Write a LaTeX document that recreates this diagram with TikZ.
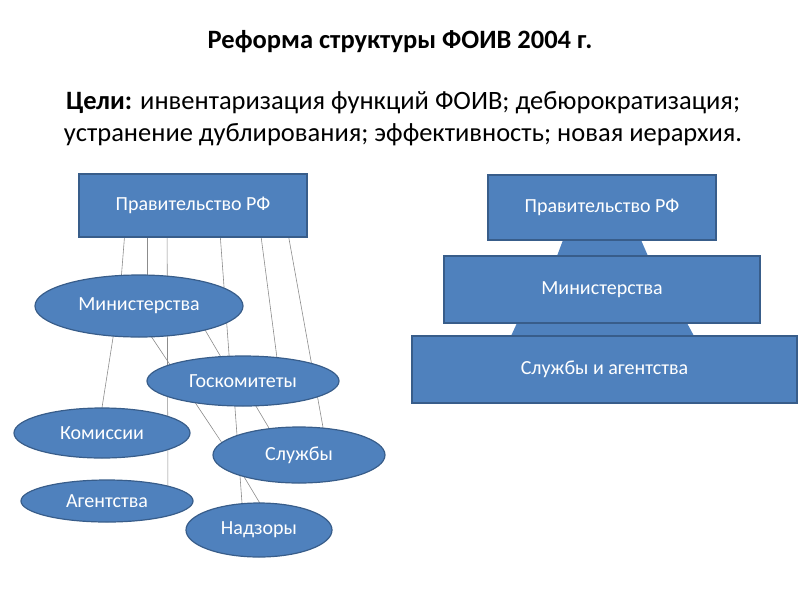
\documentclass[tikz,border=0pt]{standalone}
\usepackage{fontspec}
\setmainfont{Carlito}
\usetikzlibrary{shapes.geometric,backgrounds}
\definecolor{bfill}{HTML}{4F81BD}
\definecolor{bdraw}{HTML}{385D8A}
\tikzset{
  box/.style={draw=bdraw,line width=1.2pt,fill=bfill,text=white,font=\fontsize{20}{24}\selectfont,inner sep=0pt},
  ell/.style={ellipse,draw=bdraw,line width=1.2pt,fill=bfill,text=white,font=\fontsize{20}{24}\selectfont,inner sep=0pt},
  link/.style={draw=black!45,line width=0.6pt}
}
\begin{document}
\begin{tikzpicture}[x=1pt,y=-1pt]
\useasboundingbox (0,0) rectangle (800,600);
\node[font=\fontsize{26.5}{30}\selectfont\bfseries] (title) at (400,42) {Реформа структуры ФОИВ 2004 г.};
\node[font=\fontsize{26.5}{30}\selectfont] (goal1) at (403,103) {\textbf{Цели:} инвентаризация функций ФОИВ; дебюрократизация;};
\node[font=\fontsize{26.5}{30}\selectfont] (goal2) at (403,135) {устранение дублирования; эффективность; новая иерархия.};
% left
\node[box,minimum width=228,minimum height=63] (gov) at (193,205.5) {Правительство РФ};
\node[ell,minimum width=208,minimum height=62] (min) at (139,306) {Министерства};
\node[ell,minimum width=192,minimum height=50] (gosk) at (243,381) {Госкомитеты};
\node[ell,minimum width=176,minimum height=50] (kom) at (102,433) {Комиссии};
\node[ell,minimum width=172,minimum height=56] (sl) at (299,455) {Службы};
\node[ell,minimum width=172,minimum height=42] (ag) at (107,501) {Агентства};
\node[ell,minimum width=146,minimum height=54] (nad) at (259,530) {Надзоры};
\begin{scope}[on background layer]
\draw[link] ([xshift=-66]gov.center) -- ([xshift=-20]min.center);
\draw[link] ([xshift=-46]gov.center) -- ([xshift=8]min.center);
\draw[link] ([xshift=-26]gov.center) -- ([xshift=61]ag.center);
\draw[link] ([xshift=25]gov.center) -- ([xshift=-12]gosk.center);
\draw[link] ([xshift=64]gov.center) -- ([xshift=37]gosk.center);
\draw[link] ([xshift=90]gov.center) -- ([xshift=29]sl.center);
\draw[link] ([xshift=-21]min.center) -- ([xshift=-4]kom.center);
\draw[link] ([xshift=-8]min.center) -- ([xshift=-69]sl.center);
\draw[link] ([xshift=52]min.center) -- ([xshift=-8]gosk.center);
\draw[link] ([xshift=-10]gosk.center) -- ([xshift=-15]nad.center);
\draw[link] ([xshift=-2]gosk.center) -- ([xshift=-14]sl.center);
\draw[link] ([xshift=-68]sl.center) -- ([xshift=17]nad.center);
\end{scope}
% right
\fill[bfill] (563,240) -- (641,240) -- (648,256) -- (557,256) -- cycle;
\fill[bfill] (517,323) -- (687,323) -- (694,336) -- (511,336) -- cycle;
\node[box,minimum width=228,minimum height=65] (rgov) at (602,207.5) {Правительство РФ};
\node[box,minimum width=316,minimum height=67] (rmin) at (602,289.5) {Министерства};
\node[box,minimum width=385,minimum height=67] (rsl) at (604.5,369.5) {Службы и агентства};
\end{tikzpicture}
\end{document}
